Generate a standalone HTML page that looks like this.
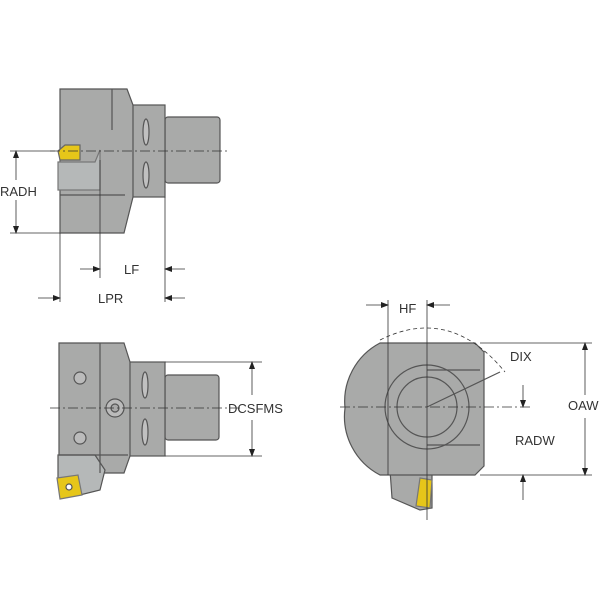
<!DOCTYPE html>
<html><head><meta charset="utf-8"><style>
html,body{margin:0;padding:0;background:#fff;width:600px;height:600px;overflow:hidden}
svg{display:block}
text{font-family:"Liberation Sans",sans-serif;font-size:13px;fill:#333}
</style></head><body>
<svg width="600" height="600" viewBox="0 0 600 600" xmlns="http://www.w3.org/2000/svg">
<defs>
<marker id="a" markerWidth="8" markerHeight="8" refX="7" refY="4" orient="auto" markerUnits="userSpaceOnUse"><path d="M0,1 L8,4 L0,7 Z" fill="#222"/></marker>
</defs>
<g stroke="#555" stroke-width="1.2" fill="#a9aaa9">
<!-- TOP VIEW -->
<rect x="165" y="117" width="55" height="66" rx="3"/>
<rect x="132" y="105" width="33" height="92"/>
<path d="M60,89 L127,89 L133,105 L133,197 L124,233 L60,233 Z"/>
<path d="M58,151 L65,145 L80,145 L80,160 L60,160 Z" fill="#e6c619" stroke="#666"/>
<path d="M58,162 L95,162 L100,150 L100,190 L58,190 Z" fill="#b5b8b8" stroke="#777"/>
<line x1="60" y1="195" x2="125" y2="195"/>
<line x1="112" y1="89" x2="112" y2="130"/>
<ellipse cx="146" cy="132" rx="3" ry="13" fill="#c0c0c0"/>
<ellipse cx="146" cy="175" rx="3" ry="13" fill="#c0c0c0"/>
<!-- BOTTOM LEFT -->
<rect x="165" y="375" width="54" height="65" rx="3"/>
<rect x="128" y="362" width="37" height="94"/>
<path d="M59,343 L124,343 L130,362 L130,456 L124,473 L59,473 Z"/>
<path d="M58,455 L95,455 L105,470 L100,490 L80,495 L58,480 Z" fill="#b5b8b8"/>
<line x1="100" y1="343" x2="100" y2="473"/>
<line x1="59" y1="455" x2="128" y2="455"/>
<circle cx="80" cy="378" r="6" fill="#bbb"/>
<circle cx="80" cy="438" r="6" fill="#bbb"/>
<circle cx="115" cy="408" r="9" fill="#bbb"/>
<circle cx="115" cy="408" r="4" fill="#aaa"/>
<ellipse cx="145" cy="385" rx="3" ry="13" fill="#c0c0c0"/>
<ellipse cx="145" cy="432" rx="3" ry="13" fill="#c0c0c0"/>
<path d="M57,478 L78,475 L82,495 L60,499 Z" fill="#e6c619" stroke="#777"/>
<circle cx="69" cy="487" r="3" fill="#fff"/>
<!-- RIGHT VIEW -->
<path d="M390,470 L432,470 L432,508 L420,510 L392,498 Z"/>
<path d="M380,343 L475,343 L484,352 L484,466 L475,475 L380,475 A66,66 0 0 1 345,408 A66,66 0 0 1 380,343 Z"/>
<path d="M420,478 L432,480 L430,508 L416,506 Z" fill="#e6c619" stroke="#777"/>
<circle cx="427" cy="407" r="42" fill="none"/>
<circle cx="427" cy="407" r="30" fill="none"/>
<line x1="427" y1="407" x2="500" y2="372"/>
<line x1="427" y1="370" x2="480" y2="370"/>
<line x1="427" y1="445" x2="480" y2="445"/>
</g>
<g stroke="#333" stroke-width="0.8" fill="none">
<line x1="50" y1="151" x2="230" y2="151" stroke-dasharray="10,3,2,3"/>
<line x1="50" y1="408" x2="240" y2="408" stroke-dasharray="10,3,2,3"/>
<line x1="340" y1="407" x2="530" y2="407" stroke-dasharray="10,3,2,3"/>
<line x1="10" y1="151" x2="55" y2="151"/>
<line x1="10" y1="233" x2="60" y2="233"/>
<line x1="16" y1="180" x2="16" y2="151" marker-end="url(#a)"/>
<line x1="16" y1="200" x2="16" y2="233" marker-end="url(#a)"/>
<line x1="100" y1="160" x2="100" y2="278"/>
<line x1="165" y1="197" x2="165" y2="302"/>
<line x1="60" y1="233" x2="60" y2="302"/>
<line x1="80" y1="269" x2="100" y2="269" marker-end="url(#a)"/>
<line x1="185" y1="269" x2="165" y2="269" marker-end="url(#a)"/>
<line x1="38" y1="298" x2="60" y2="298" marker-end="url(#a)"/>
<line x1="185" y1="298" x2="165" y2="298" marker-end="url(#a)"/>
<line x1="165" y1="362" x2="262" y2="362"/>
<line x1="165" y1="456" x2="262" y2="456"/>
<line x1="252" y1="395" x2="252" y2="362" marker-end="url(#a)"/>
<line x1="252" y1="420" x2="252" y2="456" marker-end="url(#a)"/>
<line x1="388" y1="300" x2="388" y2="475"/>
<line x1="427" y1="300" x2="427" y2="520"/>
<line x1="366" y1="305" x2="388" y2="305" marker-end="url(#a)"/>
<line x1="450" y1="305" x2="427" y2="305" marker-end="url(#a)"/>
<path d="M380,340 Q450,305 505,372" stroke-dasharray="4,3"/>
<line x1="480" y1="343" x2="592" y2="343"/>
<line x1="480" y1="475" x2="592" y2="475"/>
<line x1="585" y1="395" x2="585" y2="343" marker-end="url(#a)"/>
<line x1="585" y1="418" x2="585" y2="475" marker-end="url(#a)"/>
<line x1="523" y1="385" x2="523" y2="407" marker-end="url(#a)"/>
<line x1="523" y1="500" x2="523" y2="475" marker-end="url(#a)"/>
</g>
<text x="0" y="196">RADH</text>
<text x="124" y="274">LF</text>
<text x="98" y="303">LPR</text>
<text x="228" y="413">DCSFMS</text>
<text x="399" y="313">HF</text>
<text x="510" y="361">DIX</text>
<text x="568" y="410">OAW</text>
<text x="515" y="445">RADW</text>
</svg>
</body></html>
